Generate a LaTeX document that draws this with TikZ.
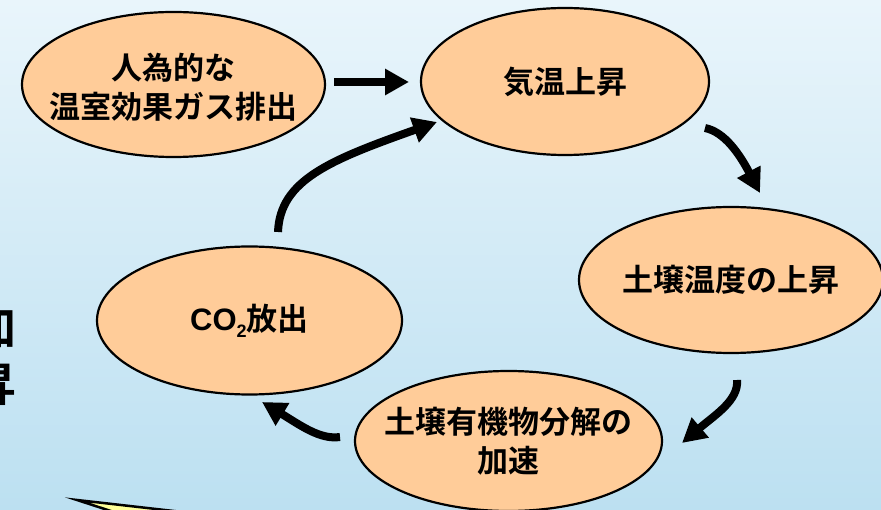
\documentclass[tikz,border=0pt]{standalone}
\usepackage{fontspec}
\setmainfont{Noto Sans CJK JP Bold}
\newfontfamily\lat{Liberation Sans}[BoldFont={Liberation Sans Bold}]
\usetikzlibrary{shapes.geometric,arrows.meta}
\definecolor{bgtop}{RGB}{233,245,251}
\definecolor{bgbot}{RGB}{188,224,241}
\definecolor{peach}{RGB}{255,204,153}
\definecolor{calloutyellow}{RGB}{255,255,153}
\tikzset{
  bubble/.style={ellipse, draw=black, line width=2.2pt, fill=peach, inner sep=0pt},
  bubbletext/.style={inner sep=0pt, align=center, font=\fontsize{31}{39}\selectfont},
  bigarrow/.style={line width=8pt, -{Triangle[length=24pt,width=25pt]}},
}
\begin{document}
\begin{tikzpicture}[x=1pt,y=-1pt]
\useasboundingbox (0,0) rectangle (881,510);
\clip (0,0) rectangle (881,510);
\shade[top color=bgtop, bottom color=bgbot] (0,0) rectangle (881,510);

% partially visible text at the left edge
\node[anchor=east, inner sep=0pt, align=right, font=\fontsize{46}{57}\selectfont] (lefttext) at (17,356) {加\\昇};

% callout pointer at the bottom left
\filldraw[fill=calloutyellow, draw=black, line width=2.5pt, line join=miter]
  (77,500) -- (200,514) -- (120,514) -- cycle;

\node[bubble, minimum width=303pt, minimum height=145pt] (e1) at (173.5,84.5) {};
\node[bubble, minimum width=288pt, minimum height=147pt] (e2) at (565,81.5) {};
\node[bubble, minimum width=304pt, minimum height=146pt] (e3) at (731,280) {};
\node[bubble, minimum width=307pt, minimum height=140pt] (e4) at (508.5,441) {};
\node[bubble, minimum width=305pt, minimum height=148pt] (e5) at (249.5,320.5) {};

\node[bubbletext] (t1) at (173.5,87.5) {人為的な\\温室効果ガス排出};
\node[bubbletext] (t2) at (e2.center) {気温上昇};
\node[bubbletext] (t3) at (e3.center) {土壌温度の上昇};
\node[bubbletext] (t4) at (e4.center) {土壌有機物分解の\\加速};
\node[bubbletext] (t5) at (e5.center) {{\lat\bfseries CO}\raisebox{-0.22em}{\fontsize{18}{18}\selectfont\lat\bfseries 2}放出};

\coordinate (a1s) at (334,82);
\coordinate (a1e) at (409,82);
\coordinate (a2s) at (705,128);
\coordinate (a2e) at (760,193);
\coordinate (a3s) at (737,380);
\coordinate (a3e) at (682,443);
\coordinate (a4s) at (340,437);
\coordinate (a4e) at (262,402);
\coordinate (a5s) at (278,232);
\coordinate (a5e) at (437,122);

\draw[bigarrow] (a1s) -- (a1e);
\draw[bigarrow] (a2s) .. controls (725,132) and (740,155) .. (a2e);
\draw[bigarrow] (a3s) .. controls (739,400) and (715,415) .. (a3e);
\draw[bigarrow] (a4s) .. controls (320,440) and (300,425) .. (a4e);
\draw[bigarrow] (a5s) .. controls (280,180) and (330,160) .. (a5e);
\end{tikzpicture}
\end{document}
